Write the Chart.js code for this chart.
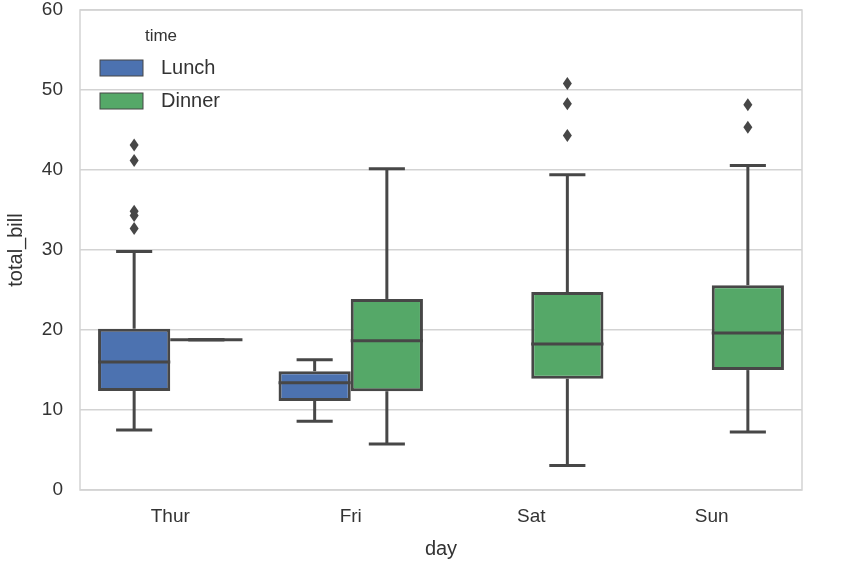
<!DOCTYPE html>
<html>
<head>
<meta charset="utf-8">
<script src="https://cdn.jsdelivr.net/npm/chart.js@4.4.0/dist/chart.umd.min.js"></script>
<style>
  html, body { margin: 0; padding: 0; background: #fff; }
  #wrap { width: 865px; height: 576px; }
</style>
</head>
<body>
<div id="wrap"><canvas id="chartCanvas"></canvas></div>
<script>
const days = ['Thur', 'Fri', 'Sat', 'Sun'];
const yTicks = [0, 10, 20, 30, 40, 50, 60];

// Lunch box stats per day
const lunchLow = [7.51, 8.58, null, null];
const lunchQ1 = [12.39, 11.13, null, null];
const lunchMedian = [16.0, 13.42, null, null];
const lunchQ3 = [20.16, 14.85, null, null];
const lunchHigh = [29.8, 16.27, null, null];
const lunchOutliers = [[32.68, 34.3, 34.83, 41.19, 43.11], [], [], []];

// Dinner box stats per day
const dinnerLow = [18.78, 5.75, 3.07, 7.25];
const dinnerQ1 = [18.78, 12.35, 13.91, 14.99];
const dinnerMedian = [18.78, 18.67, 18.24, 19.63];
const dinnerQ3 = [18.78, 23.88, 24.74, 25.6];
const dinnerHigh = [18.78, 40.17, 39.42, 40.55];
const dinnerOutliers = [[], [], [44.3, 48.27, 50.81], [45.35, 48.17]];

const edge = '#474747';
const gridColor = '#d3d3d3';
const textColor = '#333333';
const font = 'Liberation Sans, Arial, sans-serif';

const stats = [
  { low: lunchLow, q1: lunchQ1, med: lunchMedian, q3: lunchQ3, high: lunchHigh, out: lunchOutliers },
  { low: dinnerLow, q1: dinnerQ1, med: dinnerMedian, q3: dinnerQ3, high: dinnerHigh, out: dinnerOutliers }
];

function boxData(q1, q3) {
  return q1.map((v, i) => v == null ? null : [v, q3[i]]);
}

function line(ctx, x1, y1, x2, y2) {
  ctx.beginPath();
  ctx.moveTo(x1, y1);
  ctx.lineTo(x2, y2);
  ctx.stroke();
}

// frame around the plot area
const framePlugin = {
  id: 'frame',
  beforeDatasetsDraw(chart) {
    const a = chart.chartArea, ctx = chart.ctx;
    ctx.save();
    ctx.strokeStyle = gridColor;
    ctx.lineWidth = 1.5;
    ctx.strokeRect(a.left, a.top, a.right - a.left, a.bottom - a.top);
    ctx.restore();
  }
};

// whiskers, medians, caps and fliers on top of the floating bars
const boxPlugin = {
  id: 'boxes',
  afterDatasetsDraw(chart) {
    const ctx = chart.ctx, y = chart.scales.y;
    ctx.save();
    ctx.strokeStyle = edge;
    ctx.fillStyle = edge;
    ctx.lineWidth = 3;
    ctx.lineCap = 'butt';
    stats.forEach((s, di) => {
      const meta = chart.getDatasetMeta(di);
      meta.data.forEach((bar, i) => {
        if (s.q1[i] == null) return;
        const x = bar.x, half = bar.width / 2, cap = half / 2;
        const pLow = y.getPixelForValue(s.low[i]);
        const pQ1 = y.getPixelForValue(s.q1[i]);
        const pMed = y.getPixelForValue(s.med[i]);
        const pQ3 = y.getPixelForValue(s.q3[i]);
        const pHigh = y.getPixelForValue(s.high[i]);
        line(ctx, x, pQ3, x, pHigh);
        line(ctx, x, pQ1, x, pLow);
        line(ctx, x - cap, pHigh, x + cap, pHigh);
        line(ctx, x - cap, pLow, x + cap, pLow);
        line(ctx, x - half, pMed, x + half, pMed);
        s.out[i].forEach(v => {
          const py = y.getPixelForValue(v);
          ctx.beginPath();
          ctx.moveTo(x, py - 6.5);
          ctx.lineTo(x + 4.5, py);
          ctx.lineTo(x, py + 6.5);
          ctx.lineTo(x - 4.5, py);
          ctx.closePath();
          ctx.fill();
        });
      });
    });
    ctx.restore();
  }
};

// legend inside the plot, seaborn style
const legendPlugin = {
  id: 'innerLegend',
  afterDraw(chart) {
    const ctx = chart.ctx, a = chart.chartArea;
    const x0 = a.left + 20, y0 = a.top + 26;
    ctx.save();
    ctx.fillStyle = textColor;
    ctx.textBaseline = 'middle';
    ctx.textAlign = 'center';
    ctx.font = '17px ' + font;
    ctx.fillText('time', x0 + 61, y0);
    ctx.textAlign = 'left';
    ctx.font = '20px ' + font;
    chart.data.datasets.forEach((ds, i) => {
      const yy = y0 + 32 + i * 33;
      ctx.fillStyle = ds.backgroundColor;
      ctx.fillRect(x0, yy - 8, 43, 16);
      ctx.strokeStyle = edge;
      ctx.lineWidth = 1;
      ctx.strokeRect(x0, yy - 8, 43, 16);
      ctx.fillStyle = textColor;
      ctx.fillText(ds.label, x0 + 61, yy);
    });
    ctx.restore();
  }
};

const config = {
  type: 'bar',
  data: {
    labels: days,
    datasets: [
      {
        label: 'Lunch',
        data: boxData(lunchQ1, lunchQ3),
        backgroundColor: '#4C72B0',
        borderColor: edge,
        borderWidth: 3,
        borderSkipped: false
      },
      {
        label: 'Dinner',
        data: boxData(dinnerQ1, dinnerQ3),
        backgroundColor: '#55A868',
        borderColor: edge,
        borderWidth: 3,
        borderSkipped: false
      }
    ]
  },
  options: {
    responsive: true,
    maintainAspectRatio: false,
    animation: false,
    layout: { padding: { top: 10, right: 63, bottom: 0, left: 0 } },
    datasets: { bar: { categoryPercentage: 0.8, barPercentage: 1.0 } },
    plugins: {
      legend: { display: false },
      tooltip: { enabled: false }
    },
    scales: {
      x: {
        grid: { display: false, drawTicks: false },
        border: { display: false },
        ticks: { color: textColor, font: { family: font, size: 19 }, padding: 15 },
        title: { display: true, text: 'day', color: textColor, font: { family: font, size: 20 }, padding: { top: 0, bottom: 15 } },
        afterFit(s) { s.height = 86; }
      },
      y: {
        min: 0,
        max: 60,
        afterBuildTicks(s) { s.ticks = yTicks.map(v => ({ value: v })); },
        grid: { color: gridColor, lineWidth: 1.5, drawTicks: false },
        border: { display: false },
        ticks: { color: textColor, font: { family: font, size: 19, lineHeight: 1 }, padding: 17 },
        title: { display: true, text: 'total_bill', color: textColor, font: { family: font, size: 20 }, padding: { top: 4, bottom: 0 } },
        afterFit(s) { s.width = 80; s.paddingTop = 0; s.paddingBottom = 0; }
      }
    }
  },
  plugins: [framePlugin, boxPlugin, legendPlugin]
};

const chart = new Chart(document.getElementById('chartCanvas').getContext('2d'), config);
</script>
</body>
</html>
